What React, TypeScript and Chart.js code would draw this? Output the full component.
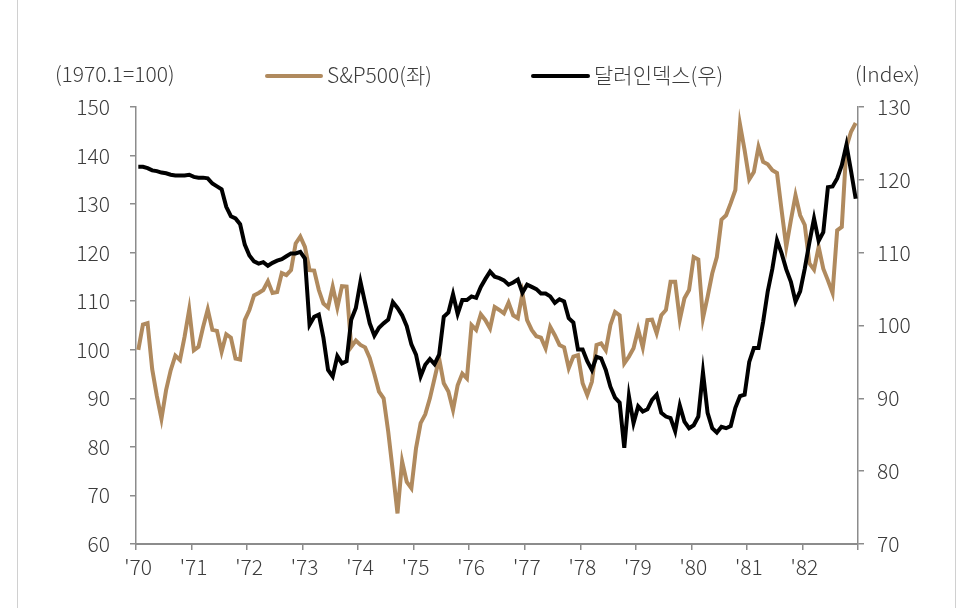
import React, { useEffect, useRef } from "react";
import { Chart, registerables } from "chart.js";

Chart.register(...registerables);

// Year tick labels (one per January)
const yearLabels = ["'70", "'71", "'72", "'73", "'74", "'75", "'76", "'77", "'78", "'79", "'80", "'81", "'82"];

// Monthly series, 1970.1 – 1982.12
const sp500 = [
  100, 105.2, 105.5, 96, 90.5, 85.8, 91.7, 95.8, 98.8, 97.9, 102.7, 108.3,
  99.9, 100.6, 104.7, 108.3, 104.1, 103.9, 99.6, 103.2, 102.5, 98.2, 98.0, 106.1,
  108.2, 111.2, 111.7, 112.3, 114.1, 111.7, 111.9, 115.8, 115.4, 116.4, 121.9, 123.3,
  121.2, 116.4, 116.3, 112.3, 109.5, 108.7, 113, 108.7, 113.1, 113, 100.6, 101.9,
  101, 100.5, 98.3, 95, 91.4, 90.0, 83.1, 74.9, 66.3, 77, 72.8, 71.5,
  79.7, 84.9, 86.7, 90.0, 94.1, 98.2, 93.1, 91.4, 87.6, 92.7, 95.1, 94.1,
  105.1, 104.1, 107.3, 106.1, 104.4, 108.8, 108.2, 107.5, 109.7, 107.1, 106.5, 111.6,
  106.1, 104.1, 102.8, 102.5, 100.3, 104.7, 103.0, 101.0, 100.5, 96.2, 98.6, 98.9,
  93.1, 90.7, 93.4, 101, 101.3, 99.9, 105.1, 107.8, 107.1, 97.2, 98.6, 100.3,
  104.2, 100.5, 106.1, 106.2, 103.4, 107.1, 108.2, 114, 114, 106.2, 110.6, 112.3,
  119.1, 118.6, 106.5, 110.9, 115.7, 119.1, 126.8, 127.7, 130.2, 132.9, 146.4, 141.1,
  135.1, 136.6, 141.8, 138.7, 138.2, 137, 136.4, 128.7, 121.2, 126.7, 131.8, 127.7,
  125.7, 117.8, 116.5, 121.2, 116.7, 114.3, 111.7, 124.6, 125.3, 141.8, 144.9, 146.7,
];

const dollarIndex = [
  121.8, 121.8, 121.6, 121.3, 121.2, 121.0, 120.9, 120.7, 120.6, 120.6, 120.6, 120.7,
  120.4, 120.3, 120.3, 120.2, 119.5, 119.1, 118.7, 116.3, 115.0, 114.7, 113.9, 111.1,
  109.6, 108.8, 108.5, 108.7, 108.2, 108.6, 108.9, 109.1, 109.5, 109.9, 109.9, 110.1,
  109.2, 100.1, 101.2, 101.5, 98.3, 93.9, 93.0, 95.8, 94.8, 95.1, 100.8, 102.4,
  106.0, 103.1, 100.3, 98.6, 99.7, 100.3, 100.8, 103.2, 102.4, 101.4, 99.9, 97.4,
  96.0, 93.0, 94.6, 95.4, 94.7, 96.0, 101.2, 101.8, 104.3, 101.6, 103.5, 103.5,
  104.0, 103.8, 105.3, 106.4, 107.4, 106.7, 106.5, 106.2, 105.6, 105.9, 106.3, 104.5,
  105.6, 105.3, 105.0, 104.4, 104.4, 104.0, 103.1, 103.6, 103.3, 101.0, 100.4, 96.7,
  96.7, 95.1, 93.9, 95.7, 95.5, 93.9, 91.6, 90.1, 89.4, 83.2, 90.3, 86.6,
  88.9, 88.2, 88.5, 89.8, 90.5, 88.0, 87.5, 87.3, 85.5, 89.0, 86.8, 85.9,
  86.3, 87.5, 93.6, 88.0, 85.9, 85.3, 86.1, 85.9, 86.2, 88.7, 90.3, 90.5,
  95.0, 96.9, 96.9, 100.5, 104.7, 107.8, 111.7, 109.9, 107.7, 106.0, 103.3, 104.7,
  107.8, 111.4, 114.7, 111.6, 112.8, 119.0, 119.1, 120.2, 122.0, 124.8, 121.2, 117.4,
];

const seriesNames = ["S&P500(좌)", "달러인덱스(우)"];
const leftUnit = "(1970.1=100)";
const rightUnit = "(Index)";

const FONT = "'Noto Sans CJK KR', 'Noto Sans', sans-serif";
const TEXT = "#3c3c3c";
const AXIS = "#8c8c8c";
const BROWN = "#B08A5E";

export default function App() {
  const ref = useRef<HTMLCanvasElement | null>(null);

  useEffect(() => {
    if (!ref.current) return;
    const chart = new Chart(ref.current, {
      type: "line",
      data: {
        datasets: [
          {
            label: seriesNames[1],
            data: dollarIndex.map((v, i) => ({ x: i + 0.5, y: v })),
            borderColor: "#000000",
            borderWidth: 4,
            pointRadius: 0,
            tension: 0,
            yAxisID: "y1",
          },
          {
            label: seriesNames[0],
            data: sp500.map((v, i) => ({ x: i + 0.5, y: v })),
            borderColor: BROWN,
            borderWidth: 4,
            pointRadius: 0,
            tension: 0,
            yAxisID: "y",
          },
        ],
      },
      options: {
        animation: false,
        responsive: false,
        maintainAspectRatio: false,
        layout: { padding: { left: 0, right: 0, top: 107, bottom: 0 } },
        plugins: { legend: { display: false }, tooltip: { enabled: false } },
        scales: {
          x: {
            type: "linear",
            min: 0,
            max: yearLabels.length * 12,
            afterFit: (s: any) => {
              s.height = 64;
            },
            afterBuildTicks: (s: any) => {
              s.ticks = Array.from({ length: yearLabels.length + 1 }, (_, k) => ({ value: k * 12 }));
            },
            ticks: {
              autoSkip: false,
              maxRotation: 0,
              padding: 4,
              labelOffset: 2,
              color: TEXT,
              font: { family: FONT, size: 21, weight: "300" },
              callback: (v: any) => {
                const k = Math.round(Number(v) / 12);
                return k < yearLabels.length ? yearLabels[k] : "";
              },
            },
            grid: { drawOnChartArea: false, drawTicks: true, tickLength: 6, color: AXIS, lineWidth: 1.5 },
            border: { display: true, color: AXIS, width: 2 },
          },
          y: {
            position: "left",
            min: 60,
            max: 150,
            afterFit: (s: any) => {
              s.width = 136;
            },
            ticks: {
              stepSize: 10,
              padding: 20,
              color: TEXT,
              font: { family: FONT, size: 21, weight: "300" },
            },
            grid: { drawOnChartArea: false, drawTicks: true, tickLength: 6, color: AXIS, lineWidth: 1.5 },
            border: { display: true, color: AXIS, width: 1.5 },
          },
          y1: {
            position: "right",
            min: 70,
            max: 130,
            afterFit: (s: any) => {
              s.width = 103;
            },
            ticks: {
              stepSize: 10,
              padding: 13,
              color: TEXT,
              font: { family: FONT, size: 21, weight: "300" },
            },
            grid: { drawOnChartArea: false, drawTicks: true, tickLength: 6, color: AXIS, lineWidth: 1.5 },
            border: { display: true, color: AXIS, width: 1.5 },
          },
        },
      },
    });
    return () => chart.destroy();
  }, []);

  const textStyle: React.CSSProperties = {
    position: "absolute",
    fontFamily: FONT,
    fontSize: 21,
    fontWeight: 300,
    color: TEXT,
    lineHeight: "22px",
    whiteSpace: "nowrap",
  };

  return (
    <div style={{ position: "absolute", left: 0, top: 0, width: 961, height: 608, background: "#fff", overflow: "hidden" }}>
      <canvas ref={ref} width={961} height={608} style={{ position: "absolute", left: 0, top: 0 }} />
      <div style={{ position: "absolute", left: 17, top: 0, width: 1, height: 608, background: "#d0d0d0" }} />
      <div style={{ position: "absolute", left: 955, top: 0, width: 1, height: 608, background: "#d0d0d0" }} />
      <span style={{ ...textStyle, left: 55, top: 62 }}>{leftUnit}</span>
      <span style={{ ...textStyle, left: 855, top: 62 }}>{rightUnit}</span>
      <div style={{ position: "absolute", left: 265, top: 74, width: 58, height: 4, background: BROWN, borderRadius: 2 }} />
      <span style={{ ...textStyle, left: 327, top: 63 }}>{seriesNames[0]}</span>
      <div style={{ position: "absolute", left: 531, top: 74, width: 59, height: 4, background: "#000", borderRadius: 2 }} />
      <span style={{ ...textStyle, left: 594, top: 63 }}>{seriesNames[1]}</span>
    </div>
  );
}
